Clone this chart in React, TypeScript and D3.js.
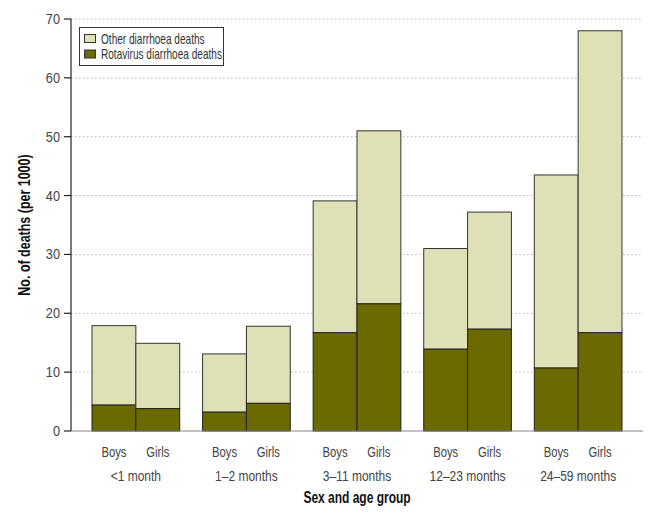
import React from "react";
import * as d3 from "d3";

const ageGroups = ["<1 month", "1\u20132 months", "3\u201311 months", "12\u201323 months", "24\u201359 months"];
const sexes = ["Boys", "Girls"];
// total diarrhoea deaths per 1000 (boys, girls) per age group
const totalDeaths = [
  [17.9, 14.9],
  [13.1, 17.8],
  [39.1, 51.0],
  [31.0, 37.2],
  [43.5, 68.0],
];
const rotavirusDeaths = [
  [4.4, 3.8],
  [3.2, 4.7],
  [16.7, 21.6],
  [13.9, 17.3],
  [10.7, 16.7],
];
const yTicks = [0, 10, 20, 30, 40, 50, 60, 70];
const seriesNames = ["Other diarrhoea deaths", "Rotavirus diarrhoea deaths"];

const W = 658;
const H = 516;
const M = { left: 71, right: 15, top: 19, bottom: 85 };
const LIGHT = "#e0e0b6";
const DARK = "#6a6a00";
const FONT = "'Liberation Sans', Arial, sans-serif";

type NTextProps = {
  x: number;
  y: number;
  sx?: number;
  anchor?: "start" | "middle" | "end";
  size: number;
  fill: string;
  bold?: boolean;
  rotate?: number;
  children: React.ReactNode;
};

function NText({ x, y, sx = 0.75, anchor = "start", size, fill, bold, rotate = 0, children }: NTextProps) {
  return (
    <text
      transform={`translate(${x},${y}) rotate(${rotate}) scale(${sx},1)`}
      textAnchor={anchor}
      fontSize={size}
      fill={fill}
      fontWeight={bold ? "bold" : "normal"}
      fontFamily={FONT}
    >
      {children}
    </text>
  );
}

export default function App() {
  const x0 = d3
    .scaleBand<string>()
    .domain(ageGroups)
    .range([M.left, W - M.right])
    .paddingInner(0.207)
    .paddingOuter(0.19);
  const x1 = d3.scaleBand<string>().domain(sexes).range([0, x0.bandwidth()]);
  const y = d3.scaleLinear().domain([0, 70]).range([H - M.bottom, M.top]);
  const y0 = y(0);

  return (
    <svg width={W} height={H} style={{ position: "absolute", left: 0, top: 0 }}>
      <rect x={0} y={0} width={W} height={H} fill="#fff" />
      {/* gridlines */}
      {yTicks.filter((t) => t > 0).map((t) => (
        <line key={t} x1={M.left} x2={W - M.right} y1={y(t)} y2={y(t)} stroke="#b5b5b5" strokeWidth={1} strokeDasharray="1.5,2.5" />
      ))}
      {/* bars */}
      {ageGroups.map((g, gi) => (
        <g key={g} transform={`translate(${x0(g)},0)`}>
          {sexes.map((s, si) => {
            const tot = totalDeaths[gi][si];
            const rot = rotavirusDeaths[gi][si];
            const bx = x1(s)!;
            const bw = x1.bandwidth();
            return (
              <g key={s}>
                <rect x={bx} y={y(tot)} width={bw} height={y(rot) - y(tot)} fill={LIGHT} stroke="#333" strokeWidth={1} />
                <rect x={bx} y={y(rot)} width={bw} height={y0 - y(rot)} fill={DARK} stroke="#222" strokeWidth={1} />
                <NText x={bx + bw / 2} y={457} anchor="middle" size={15} fill="#444">{s}</NText>
              </g>
            );
          })}
          <NText x={x0.bandwidth() / 2} y={481} anchor="middle" size={15} sx={0.8} fill="#444">{g}</NText>
        </g>
      ))}
      {/* x axis */}
      <line x1={M.left} x2={W - M.right} y1={y0} y2={y0} stroke="#888" strokeWidth={1.2} />
      {/* y axis */}
      <line x1={M.left} x2={M.left} y1={y(70)} y2={y0} stroke="#222" strokeWidth={1.2} />
      {yTicks.map((t) => (
        <g key={t}>
          <line x1={M.left - 7} x2={M.left} y1={y(t)} y2={y(t)} stroke="#222" strokeWidth={1.2} />
          <NText x={M.left - 11} y={y(t) + 5} anchor="end" size={15} sx={0.85} fill="#444">{t}</NText>
        </g>
      ))}
      {/* axis titles */}
      <NText x={357} y={503} anchor="middle" size={16} bold fill="#111">Sex and age group</NText>
      <NText x={30} y={(y(70) + y0) / 2} anchor="middle" size={16} bold rotate={-90} sx={0.78} fill="#111">No. of deaths (per 1000)</NText>
      {/* legend */}
      <g>
        <rect x={79.5} y={27.5} width={144} height={38} fill="#fff" stroke="#333" strokeWidth={1} />
        {seriesNames.map((n, i) => (
          <g key={n}>
            <rect x={84.5} y={34.5 + i * 15.5} width={11} height={8} fill={i === 0 ? LIGHT : DARK} stroke="#333" strokeWidth={1} />
            <NText x={101} y={43.5 + i * 15.5} size={14} sx={0.72} fill="#333">{n}</NText>
          </g>
        ))}
      </g>
    </svg>
  );
}
